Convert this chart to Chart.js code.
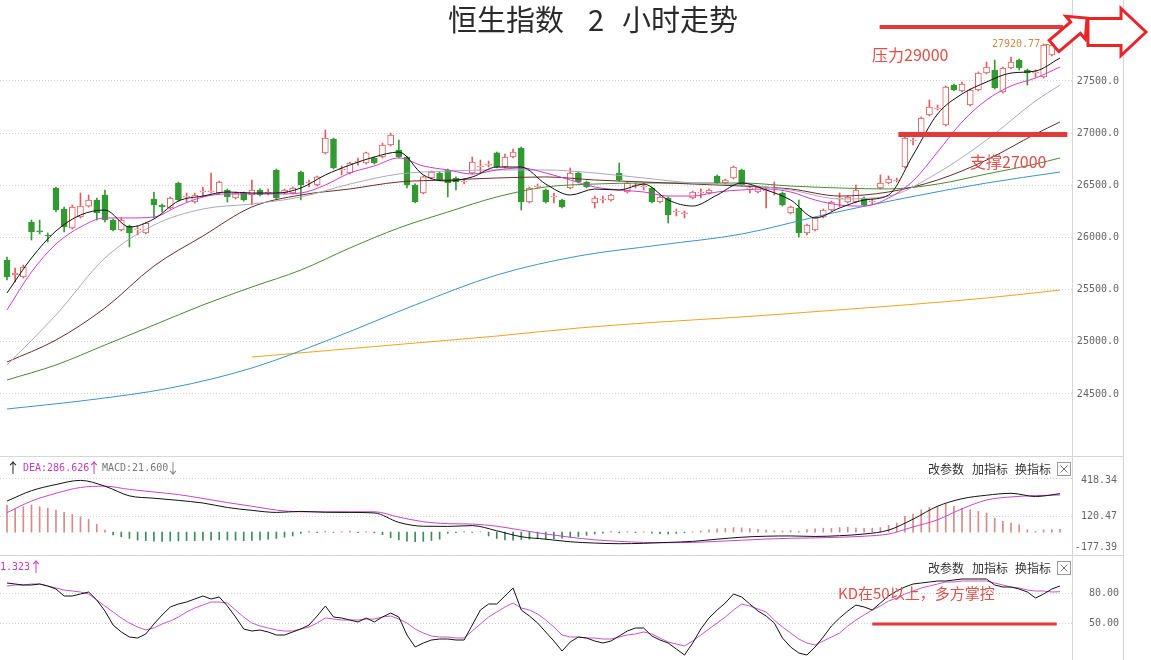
<!DOCTYPE html>
<html>
<head>
<meta charset="utf-8">
<title>恒生指数 2 小时走势</title>
<script src="https://cdn.jsdelivr.net/npm/chart.js@4.4.1/dist/chart.umd.min.js"></script>
<style>
  html, body { margin:0; padding:0; background:#ffffff; }
  #wrap { position:relative; width:1151px; height:660px; overflow:hidden; background:#fff; }
  canvas { position:absolute; left:0; }
</style>
</head>
<body>
<div id="wrap">
  <canvas id="cMain" width="1151" height="457" style="top:0px"></canvas>
  <canvas id="cMacd" width="1151" height="99" style="top:457px"></canvas>
  <canvas id="cKd" width="1151" height="104" style="top:556px"></canvas>
</div>
<script>
// ---------------- DATA ----------------
const candleOpen = [
25784,25640,25621,26148,26062,26024,26474,26273,26091,26196,
26301,26359,26407,26167,26072,26110,26072,26043,26369,26311,
26282,26522,26388,26340,26436,26436,26426,26455,26378,26426,
26407,26455,26426,26647,26426,26426,26627,26522,26503,26810,
26944,26647,26618,26723,26714,26762,26771,26886,26838,26771,
26503,26426,26570,26618,26647,26570,26532,26618,26675,26694,
26810,26675,26771,26857,26340,26484,26455,26388,26359,26474,
26618,26532,26330,26359,26359,26618,26436,26493,26484,26474,
26340,26378,26244,26225,26378,26426,26426,26589,26522,26570,
26647,26465,26436,26445,26474,26426,26235,26282,26043,26072,
26196,26263,26369,26340,26340,26378,26340,26474,26522,26541,
26675,26925,27001,27174,27231,27078,27461,27404,27270,27413,
27576,27605,27394,27624,27701,27605,27576,27538,27749,27864];
const candleClose = [
25621,25659,25717,26053,26053,26014,26263,26100,26292,26301,
26359,26235,26167,26072,26167,26043,26081,26139,26311,26292,
26378,26359,26397,26407,26445,26445,26532,26388,26426,26359,
26455,26407,26436,26378,26455,26474,26503,26532,26580,26953,
26666,26656,26714,26733,26810,26714,26886,26982,26771,26503,
26340,26580,26627,26551,26522,26532,26541,26723,26685,26704,
26675,26771,26819,26340,26474,26493,26340,26397,26292,26618,
26532,26484,26378,26369,26407,26551,26522,26503,26493,26340,
26388,26215,26254,26235,26436,26436,26455,26522,26551,26675,
26503,26474,26484,26455,26484,26311,26292,26043,26119,26187,
26263,26340,26378,26388,26455,26311,26349,26522,26560,26551,
26953,26934,27145,27250,27241,27442,27413,27471,27413,27576,
27634,27433,27624,27682,27624,27576,27586,27845,27845,27873];
const candleHigh = [
25813,25707,25736,26167,26167,26043,26484,26292,26311,26426,
26407,26378,26455,26177,26187,26119,26110,26148,26436,26321,
26388,26532,26426,26426,26484,26618,26541,26465,26436,26436,
26551,26465,26465,26656,26465,26484,26637,26551,26589,27030,
26953,26685,26723,26762,26819,26771,26905,27001,26934,26781,
26513,26589,26637,26627,26656,26580,26560,26771,26742,26733,
26819,26800,26848,26867,26484,26513,26465,26426,26369,26666,
26627,26541,26397,26397,26417,26714,26532,26522,26522,26484,
26397,26388,26273,26254,26445,26465,26465,26599,26560,26685,
26656,26493,26493,26474,26532,26436,26301,26359,26129,26196,
26273,26349,26426,26397,26503,26388,26369,26599,26589,26570,
26963,26953,27155,27318,27270,27452,27471,27490,27423,27586,
27682,27701,27634,27730,27711,27615,27605,27854,27921,27893];
const candleLow = [
25592,25573,25611,25976,26034,25957,26244,26053,26081,26187,
26292,26167,26148,26062,26062,25909,26024,26034,26187,26244,
26273,26349,26340,26330,26388,26426,26417,26340,26369,26349,
26311,26397,26407,26359,26417,26417,26359,26484,26493,26800,
26656,26599,26608,26694,26704,26704,26762,26877,26762,26474,
26330,26417,26560,26541,26388,26455,26513,26608,26618,26675,
26666,26666,26762,26263,26330,26474,26330,26330,26282,26465,
26522,26474,26282,26330,26349,26541,26426,26474,26455,26330,
26330,26139,26206,26187,26369,26378,26417,26513,26513,26560,
26493,26426,26426,26282,26407,26301,26225,26004,26024,26062,
26187,26254,26292,26330,26330,26301,26321,26465,26513,26532,
26666,26886,26992,27164,27222,27069,27404,27394,27260,27404,
27567,27423,27385,27615,27605,27461,27538,27528,27739,27845];

// moving averages (read at sampled candle indices)
const maIdx3  = Array.from({length:44}, (_, k) => k * 3);          // 0..129
const maIdx6  = Array.from({length:22}, (_, k) => k * 6).concat([129]);
const maIdx10 = Array.from({length:13}, (_, k) => k * 10).concat([129]);
const ma250Idx = [30,40,50,60,70,80,90,100,110,120,129];

const ma5 = [25468,25803,26062,26215,26263,26100,26177,26349,26397,26436,26426,26426,26474,26599,26694,26771,26819,26599,26541,26580,26675,26675,26512,26407,26464,26455,26512,26359,26301,26407,26522,26455,26359,26187,26282,26359,26407,26790,27183,27375,27490,27576,27595,27720];
const ma10 = [25305,25669,25937,26100,26187,26187,26196,26301,26388,26417,26417,26417,26426,26503,26618,26685,26762,26685,26647,26608,26647,26666,26618,26551,26484,26455,26436,26397,26397,26436,26455,26465,26436,26359,26311,26301,26378,26541,26819,27107,27318,27452,27528,27634];
const ma20 = [24778,25257,25803,26119,26273,26321,26388,26512,26608,26637,26647,26647,26618,26570,26522,26503,26455,26369,26397,26618,26934,27308,27461];
const ma30 = [24806,25017,25324,25726,26014,26292,26407,26465,26532,26551,26570,26580,26551,26532,26512,26493,26465,26397,26436,26551,26742,26992,27107];
const ma60 = [24634,24778,24969,25161,25353,25525,25688,25899,26091,26244,26388,26484,26512,26522,26522,26522,26493,26474,26465,26512,26608,26704,26762];
const ma120 = [24356,24442,24557,24749,25036,25353,25640,25822,25928,26033,26215,26378,26522,26627];
const ma250 = [24854,24921,24988,25055,25132,25190,25238,25295,25353,25420,25496];

// MACD
const macdHist = [
209,184,196,209,196,184,170,152,137,118,
98,60,15,-23,-36,-49,-62,-66,-70,-72,
-70,-68,-66,-66,-64,-62,-60,-62,-64,-66,
-64,-60,-56,-50,-40,-30,-10,5,-4,6,
-3,4,8,-5,3,-6,-20,-45,-60,-70,
-75,-72,-65,-55,-10,-5,4,-3,2,-30,
-50,-60,-62,-58,-55,-50,-55,-52,-48,-40,
-35,-25,-15,-8,5,-6,4,-5,3,-8,
-12,-15,-10,-6,3,10,18,25,30,35,
32,28,22,15,10,8,12,5,20,25,
30,28,35,38,30,28,30,35,52,70,
121,139,173,191,199,217,199,186,173,160,
147,108,83,70,57,18,5,18,20,21.6];
const macdDif = [240,320,368,400,355,280,262,245,225,190,168,152,160,153,152,148,75,45,44,50,10,-36,-55,-75,-85,-90,-87,-80,-72,-55,-40,-32,-30,-34,-28,-15,15,100,200,258,285,300,275,297];
const macdDea = [150,240,300,345,355,330,310,290,260,228,200,170,157,157,157,157,116,80,65,62,45,15,-15,-40,-60,-72,-80,-82,-80,-72,-63,-54,-48,-45,-40,-32,-15,40,95,180,248,272,282,287];

// KD
const kdK = [
90,89,88,88,89,87,84,77,77,79,
81,73,62,48,41,36,35,39,49,58,
66,69,71,74,77,74,76,67,56,44,
42,43,41,38,38,41,44,48,57,67,
56,55,53,51,55,51,56,60,56,38,
26,30,33,34,34,33,33,48,63,69,
69,77,85,63,57,50,41,32,22,31,
36,35,32,30,32,37,42,45,45,37,
33,30,24,18,30,44,55,63,70,79,
76,69,62,57,50,35,26,20,18,26,
36,47,55,62,68,66,63,70,77,82,
86,89,90,91,92,92,93,94,94,94,
94,88,86,86,84,81,75,79,84,87];
const kdD = [
87,88,88,89,89,87,85,83,82,81,
79,73,67,61,55,50,46,43,45,49,
52,56,61,65,68,71,71,70,63,56,
50,47,45,43,42,42,44,46,50,55,
54,53,53,53,54,54,56,57,54,50,
44,40,37,36,36,35,35,42,49,56,
61,66,70,65,63,59,53,46,38,36,
36,35,35,34,34,36,38,39,41,39,
35,31,29,27,32,38,44,50,56,63,
69,67,64,61,53,46,40,34,30,28,
32,36,40,47,53,58,63,67,72,75,
79,82,85,87,89,91,91,92,92,92,
92,90,88,86,85,83,82,82,81,81.3];

// axis ticks / labels
const mainTicks = [24500, 25000, 25500, 26000, 26500, 27000, 27500];
const macdTicks = [418.34, 120.47, -177.39];
const macdTickLabels = ['418.34', '120.47', '-177.39'];
const kdTicks = [80, 50];

// annotations (values)
const resistanceLevel = 28017, resistanceFrom = 106.9, resistanceTo = 129.4;
const supportLevel = 26987, supportFrom = 109.2, supportTo = 129.9;
const kdLevel = 50, kdLineFrom = 106.0, kdLineTo = 128.6;
const maxLabel = '27920.77';

// ---------------- CHART SETUP ----------------
const N = candleOpen.length;
const idx = Array.from({length: N}, (_, i) => i);
const X_MIN = -0.857, X_MAX = 130.47;
const UP = '#e05c5c', DOWN = '#339a33';
const isUp = i => i !== undefined && candleClose[i] >= candleOpen[i];
const MONO = '"DejaVu Sans Mono", "Liberation Mono", monospace';
const CJK = '"Noto Sans CJK SC", "Noto Sans", sans-serif';

function lineDs(xs, vals, color, extra) {
  return Object.assign({
    type: 'line', data: xs.map((x, k) => ({x, y: vals[k]})),
    borderColor: color, borderWidth: 1, pointRadius: 0, fill: false,
    cubicInterpolationMode: 'monotone', order: 0
  }, extra || {});
}

function frame(chart, bottomLine) {
  const {ctx, chartArea: ca, height} = chart;
  ctx.save();
  ctx.strokeStyle = '#d6d6d6'; ctx.lineWidth = 1;
  ctx.beginPath();
  const rx = Math.round(ca.right) + 0.5;
  ctx.moveTo(rx, 0); ctx.lineTo(rx, height);
  ctx.moveTo(1123.5, 0); ctx.lineTo(1123.5, height);
  if (bottomLine) { ctx.moveTo(0, height - 0.5); ctx.lineTo(1123.5, height - 0.5); }
  ctx.stroke();
  ctx.restore();
}

function rightHeader(ctx, y) {
  ctx.save();
  ctx.font = '12px ' + CJK; ctx.fillStyle = '#333'; ctx.textBaseline = 'middle'; ctx.textAlign = 'left';
  ctx.fillText('改参数', 928, y); ctx.fillText('加指标', 972, y); ctx.fillText('换指标', 1015, y);
  ctx.strokeStyle = '#9a9a9a'; ctx.lineWidth = 1;
  ctx.strokeRect(1057.5, y - 6.5, 13, 13);
  ctx.beginPath();
  ctx.moveTo(1060.5, y - 3.5); ctx.lineTo(1067.5, y + 3.5);
  ctx.moveTo(1067.5, y - 3.5); ctx.lineTo(1060.5, y + 3.5);
  ctx.strokeStyle = '#777'; ctx.stroke();
  ctx.restore();
}

function arrowGlyph(ctx, ch, cx, cy, color) {
  ctx.save();
  ctx.font = '14px ' + CJK; ctx.textAlign = 'center'; ctx.textBaseline = 'middle';
  ctx.fillStyle = color; ctx.fillText(ch, cx, cy);
  ctx.restore();
}

function blockArrow(ctx, x0, y0, x1, y1, shaftW, headW, headL) {
  const ang = Math.atan2(y1 - y0, x1 - x0), len = Math.hypot(x1 - x0, y1 - y0);
  ctx.save(); ctx.translate(x0, y0); ctx.rotate(ang);
  ctx.beginPath();
  ctx.moveTo(0, -shaftW / 2); ctx.lineTo(len - headL, -shaftW / 2); ctx.lineTo(len - headL, -headW / 2);
  ctx.lineTo(len, 0); ctx.lineTo(len - headL, headW / 2); ctx.lineTo(len - headL, shaftW / 2);
  ctx.lineTo(0, shaftW / 2); ctx.closePath();
  ctx.fillStyle = '#fff'; ctx.fill();
  ctx.lineWidth = 3; ctx.strokeStyle = '#e8262a'; ctx.lineJoin = 'miter'; ctx.stroke();
  ctx.restore();
}

function baseOptions(padding, yOpts) {
  return {
    responsive: false, animation: false, devicePixelRatio: 1, events: [],
    layout: {padding},
    plugins: {legend: {display: false}, tooltip: {enabled: false}},
    scales: {
      x: {type: 'linear', min: X_MIN, max: X_MAX, display: false, offset: false, grid: {display: false}},
      y: yOpts
    }
  };
}

// ---------- main price chart ----------
const mainDecor = {
  id: 'mainDecor',
  beforeDraw(chart) { frame(chart, true); },
  afterDraw(chart) {
    const {ctx} = chart, xs = chart.scales.x, ys = chart.scales.y;
    ctx.save();
    // title
    ctx.fillStyle = '#2a2a2a'; ctx.font = '29px ' + CJK; ctx.textBaseline = 'middle';
    ctx.textAlign = 'left'; ctx.fillText('恒生指数', 448, 20);
    ctx.textAlign = 'center'; ctx.fillText('2', 596, 20);
    ctx.textAlign = 'left'; ctx.fillText('小时走势', 622, 20);
    // resistance / support lines
    ctx.strokeStyle = '#e23a3a'; ctx.lineCap = 'butt';
    ctx.lineWidth = 4;
    ctx.beginPath();
    ctx.moveTo(xs.getPixelForValue(resistanceFrom), ys.getPixelForValue(resistanceLevel));
    ctx.lineTo(xs.getPixelForValue(resistanceTo), ys.getPixelForValue(resistanceLevel));
    ctx.stroke();
    ctx.lineWidth = 5;
    ctx.beginPath();
    ctx.moveTo(xs.getPixelForValue(supportFrom), ys.getPixelForValue(supportLevel));
    ctx.lineTo(xs.getPixelForValue(supportTo), ys.getPixelForValue(supportLevel));
    ctx.stroke();
    // labels
    ctx.fillStyle = '#e0504a'; ctx.font = '16px ' + CJK; ctx.textAlign = 'left'; ctx.textBaseline = 'middle';
    ctx.fillText('压力29000', 872, 55);
    ctx.fillText('支撑27000', 970, 162);
    // max marker
    ctx.fillStyle = '#c98a4b'; ctx.font = '10px ' + MONO;
    ctx.fillText(maxLabel, 992, 44);
    ctx.strokeStyle = '#c98a4b'; ctx.lineWidth = 1;
    ctx.beginPath(); ctx.moveTo(1043, 44.5); ctx.lineTo(1049, 44.5); ctx.stroke();
    // arrows
    blockArrow(ctx, 1054, 46, 1087, 18, 15, 30, 15);
    blockArrow(ctx, 1088, 32, 1146, 32, 27, 47, 25);
    ctx.restore();
  }
};

new Chart(document.getElementById('cMain'), {
  type: 'bar',
  data: {
    datasets: [
      lineDs(maIdx3, ma5, '#111111'),
      lineDs(maIdx3, ma10, '#d23ad2'),
      lineDs(maIdx6, ma20, '#a8a8bc'),
      lineDs(maIdx6, ma30, '#6e2a2a'),
      lineDs(maIdx6, ma60, '#4a8a34'),
      lineDs(maIdx10, ma120, '#3d92cc'),
      lineDs(ma250Idx, ma250, '#f2a21c'),
      {
        type: 'bar', order: 1, grouped: false, barThickness: 6, borderWidth: 1, borderSkipped: false, minBarLength: 1,
        data: idx.map(i => ({x: i, y: [candleOpen[i], candleClose[i]]})),
        backgroundColor: c => isUp(c.dataIndex) ? '#ffffff' : DOWN,
        borderColor: c => isUp(c.dataIndex) ? UP : DOWN
      },
      {
        type: 'bar', order: 2, grouped: false, barThickness: 1, borderWidth: 0,
        data: idx.map(i => ({x: i, y: [candleLow[i], candleHigh[i]]})),
        backgroundColor: c => isUp(c.dataIndex) ? UP : DOWN
      }
    ]
  },
  options: baseOptions({top: 0, bottom: 2, left: 0, right: 32}, {
    position: 'right', min: 23915, max: 28276,
    afterBuildTicks: s => { s.ticks = mainTicks.map(v => ({value: v})); },
    afterFit: s => { s.width = 47; s.paddingTop = 0; s.paddingBottom = 0; },
    grid: {color: '#cfcfcf', drawTicks: false, lineWidth: 1},
    border: {display: false, dash: [1, 2]},
    ticks: {color: '#666', font: {family: MONO, size: 10}, crossAlign: 'far', padding: 3,
            callback: v => Number(v).toFixed(1)}
  }),
  plugins: [mainDecor]
});

// ---------- MACD ----------
const macdDecor = {
  id: 'macdDecor',
  beforeDraw(chart) { frame(chart, true); },
  afterDraw(chart) {
    const {ctx, chartArea: ca} = chart, ys = chart.scales.y;
    ctx.save();
    ctx.textBaseline = 'middle'; ctx.textAlign = 'left'; ctx.font = '10px ' + MONO;
    arrowGlyph(ctx, '↑', 13, 11, '#222');
    ctx.fillStyle = '#c23cc2'; ctx.fillText('DEA:286.626', 23, 11);
    arrowGlyph(ctx, '↑', 94, 11, '#c23cc2');
    ctx.fillStyle = '#777'; ctx.fillText('MACD:21.600', 102, 11);
    arrowGlyph(ctx, '↓', 173, 11, '#888');
    rightHeader(ctx, 12);
    // axis labels
    ctx.font = '10px ' + MONO; ctx.fillStyle = '#666'; ctx.textAlign = 'right'; ctx.textBaseline = 'middle';
    macdTicks.forEach((v, k) => {
      let py = ys.getPixelForValue(v);
      py = Math.min(Math.max(py, ca.top + 2), ca.bottom - 8);
      ctx.fillText(macdTickLabels[k], 1117, py);
    });
    ctx.restore();
  }
};

new Chart(document.getElementById('cMacd'), {
  type: 'bar',
  data: {
    datasets: [
      lineDs(maIdx3, macdDif, '#111111'),
      lineDs(maIdx3, macdDea, '#c846c8'),
      {
        type: 'bar', order: 2, grouped: false, barThickness: 1, borderWidth: 0,
        data: idx.map(i => ({x: i, y: macdHist[i]})),
        backgroundColor: c => (c.raw && c.raw.y >= 0) ? '#d88a8a' : '#3f8a5c'
      }
    ]
  },
  options: baseOptions({top: 21, bottom: 1, left: 0, right: 32}, {
    position: 'right', min: -177.39, max: 418.34,
    afterBuildTicks: s => { s.ticks = macdTicks.map(v => ({value: v})); },
    afterFit: s => { s.width = 47; s.paddingTop = 0; s.paddingBottom = 0; },
    grid: {color: '#cfcfcf', drawTicks: false},
    border: {display: false, dash: [1, 2]},
    ticks: {display: false}
  }),
  plugins: [macdDecor]
});

// ---------- KD ----------
const kdDecor = {
  id: 'kdDecor',
  beforeDraw(chart) { frame(chart, false); },
  afterDraw(chart) {
    const {ctx} = chart, xs = chart.scales.x, ys = chart.scales.y;
    ctx.save();
    ctx.font = '10px ' + MONO; ctx.textBaseline = 'middle'; ctx.textAlign = 'left';
    ctx.fillStyle = '#c23cc2';
    const pre = ctx.measureText('D:8').width;
    ctx.fillText('D:81.323', -pre, 11);
    arrowGlyph(ctx, '↑', 36, 11, '#c23cc2');
    rightHeader(ctx, 12);
    // annotation
    ctx.strokeStyle = '#e23a3a'; ctx.lineWidth = 3;
    ctx.beginPath();
    ctx.moveTo(xs.getPixelForValue(kdLineFrom), ys.getPixelForValue(kdLevel) + 1);
    ctx.lineTo(xs.getPixelForValue(kdLineTo), ys.getPixelForValue(kdLevel) + 1);
    ctx.stroke();
    ctx.fillStyle = '#e0504a'; ctx.font = '15px ' + CJK; ctx.textAlign = 'left'; ctx.textBaseline = 'middle';
    ctx.fillText('KD在50以上，多方掌控', 838, 37);
    ctx.restore();
  }
};

new Chart(document.getElementById('cKd'), {
  type: 'line',
  data: {
    datasets: [
      lineDs(idx, kdK, '#111111', {cubicInterpolationMode: 'default', tension: 0}),
      lineDs(idx, kdD, '#c855c8', {cubicInterpolationMode: 'default', tension: 0})
    ]
  },
  options: baseOptions({top: 17, bottom: 0, left: 0, right: 32}, {
    position: 'right', min: 13, max: 100,
    afterBuildTicks: s => { s.ticks = kdTicks.map(v => ({value: v})); },
    afterFit: s => { s.width = 47; s.paddingTop = 0; s.paddingBottom = 0; },
    grid: {color: '#cfcfcf', drawTicks: false},
    border: {display: false, dash: [1, 2]},
    ticks: {color: '#666', font: {family: MONO, size: 10}, crossAlign: 'far', padding: 15,
            callback: v => Number(v).toFixed(2)}
  }),
  plugins: [kdDecor]
});
</script>
</body>
</html>
